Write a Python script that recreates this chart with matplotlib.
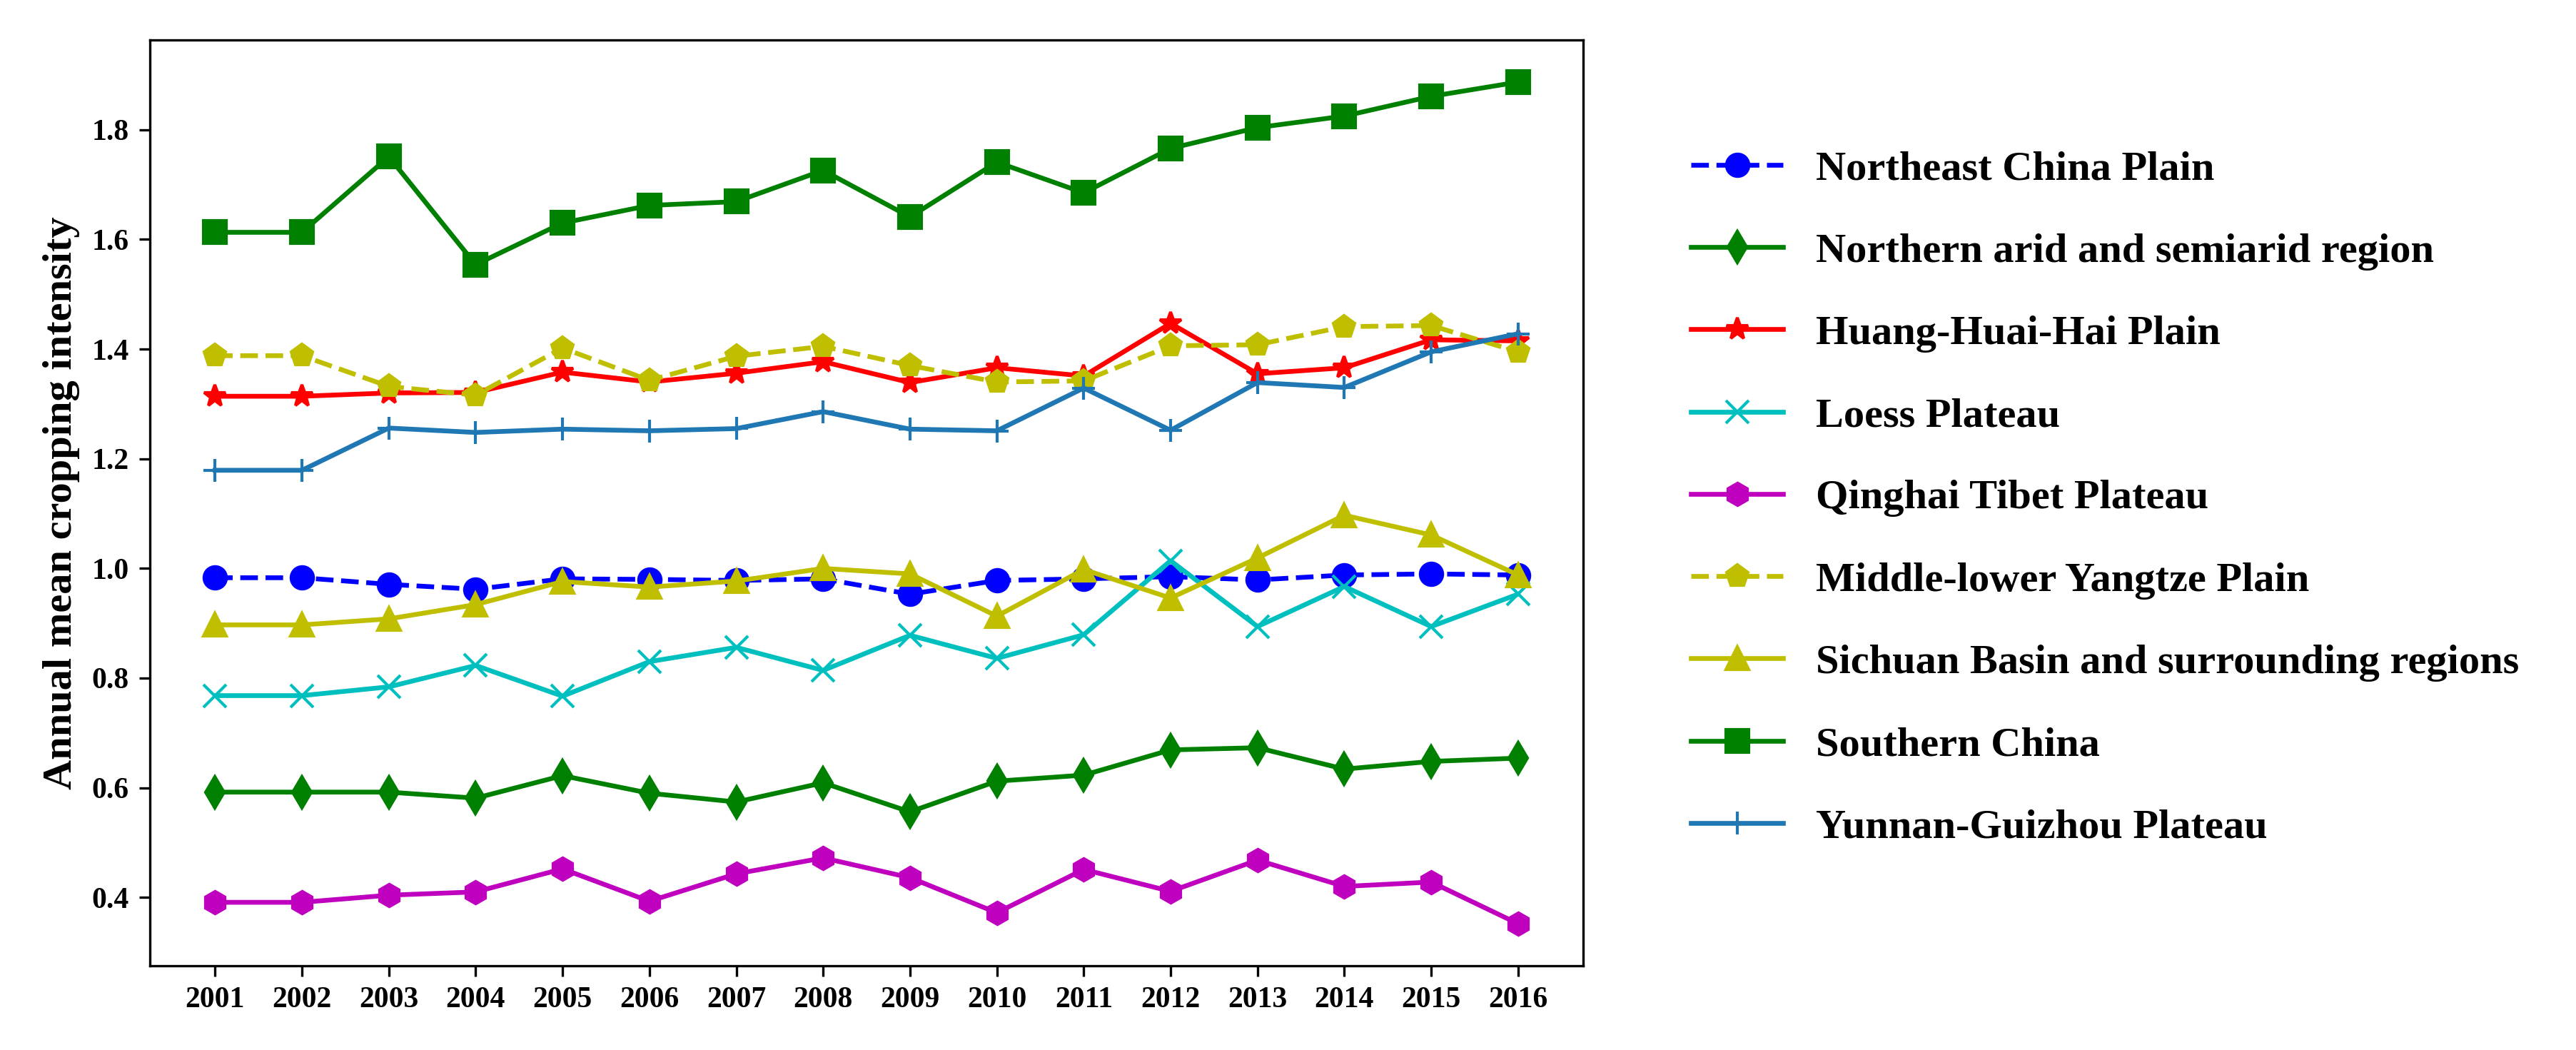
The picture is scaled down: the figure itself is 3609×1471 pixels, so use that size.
import matplotlib
matplotlib.use("Agg")
import matplotlib.pyplot as plt

plt.rcParams['font.family'] = 'serif'
plt.rcParams['font.serif'] = ['Liberation Serif', 'DejaVu Serif']
plt.rcParams['font.weight'] = 'bold'

years = list(range(2001, 2017))

northeast = [0.983, 0.983, 0.971, 0.962, 0.981, 0.980, 0.978, 0.981, 0.953, 0.978, 0.981,
             0.985, 0.979, 0.988, 0.990, 0.988]
northern_arid = [0.592, 0.592, 0.592, 0.581, 0.622, 0.590, 0.574, 0.609, 0.556, 0.612, 0.623,
                 0.669, 0.673, 0.634, 0.648, 0.654]
huang_huai_hai = [1.314, 1.314, 1.320, 1.321, 1.358, 1.340, 1.356, 1.377, 1.339, 1.366, 1.351,
                  1.447, 1.355, 1.366, 1.417, 1.415]
loess = [0.768, 0.768, 0.784, 0.823, 0.767, 0.830, 0.856, 0.814, 0.878, 0.836, 0.879,
         1.014, 0.894, 0.967, 0.894, 0.953]
qinghai_tibet = [0.391, 0.391, 0.404, 0.410, 0.452, 0.393, 0.443, 0.472, 0.436, 0.372, 0.451,
                 0.411, 0.468, 0.420, 0.428, 0.352]
yangtze = [1.388, 1.388, 1.332, 1.316, 1.402, 1.343, 1.387, 1.405, 1.370, 1.340, 1.342,
           1.406, 1.408, 1.441, 1.443, 1.395]
sichuan = [0.897, 0.897, 0.908, 0.934, 0.976, 0.966, 0.977, 1.000, 0.990, 0.913, 0.998,
           0.946, 1.019, 1.097, 1.061, 0.988]
southern = [1.613, 1.613, 1.751, 1.554, 1.630, 1.662, 1.669, 1.726, 1.641, 1.741, 1.685,
            1.766, 1.804, 1.825, 1.861, 1.887]
yunnan_guizhou = [1.179, 1.179, 1.256, 1.248, 1.254, 1.251, 1.255, 1.286, 1.254, 1.251, 1.329,
                  1.252, 1.339, 1.330, 1.395, 1.428]

series = [
    ("Northeast China Plain", northeast, 'b', 'o', '--'),
    ("Northern arid and semiarid region", northern_arid, 'g', 'd', '-'),
    ("Huang-Huai-Hai Plain", huang_huai_hai, 'r', '*', '-'),
    ("Loess Plateau", loess, 'c', 'x', '-'),
    ("Qinghai Tibet Plateau", qinghai_tibet, 'm', 'h', '-'),
    ("Middle-lower Yangtze Plain", yangtze, 'y', 'p', '--'),
    ("Sichuan Basin and surrounding regions", sichuan, 'y', '^', '-'),
    ("Southern China", southern, 'g', 's', '-'),
    ("Yunnan-Guizhou Plateau", yunnan_guizhou, '#1f77b4', '+', '-'),
]

fig = plt.figure(figsize=(3609 / 300, 1471 / 300), dpi=300)
ax = fig.add_axes([0.0582, 0.0802, 0.5564, 0.8817])

for name, vals, col, mk, ls in series:
    ax.plot(years, vals, color=col, marker=mk, linestyle=ls, label=name,
            linewidth=1.6, markersize=7.5)

ax.set_xticks(years)
ax.set_xticklabels([str(y) for y in years], fontsize=10, fontweight='bold')
ax.set_yticks([0.4, 0.6, 0.8, 1.0, 1.2, 1.4, 1.6, 1.8])
ax.set_yticklabels(['0.4', '0.6', '0.8', '1.0', '1.2', '1.4', '1.6', '1.8'],
                   fontsize=10, fontweight='bold')
ax.set_ylabel("Annual mean cropping intensity", fontsize=14, fontweight='bold')

fig.legend(loc='center left', bbox_to_anchor=(0.642, 0.5255), frameon=False,
           prop={'size': 14, 'weight': 'bold'}, labelspacing=1.07,
           handlelength=2.2)

fig.savefig("out.png", dpi=300)
